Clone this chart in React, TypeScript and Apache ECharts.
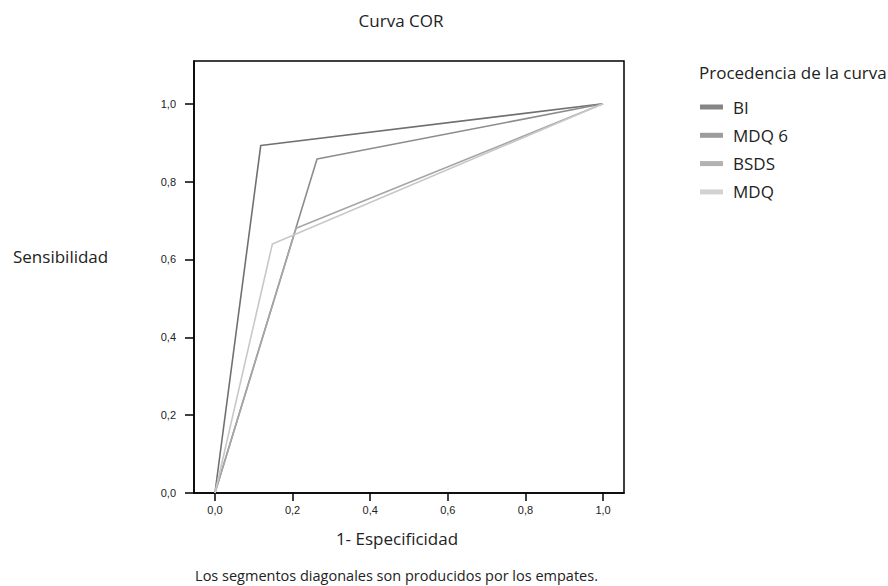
import React, { useEffect, useRef } from "react";
import * as echarts from "echarts";

const seriesNames = ["BI", "MDQ 6", "BSDS", "MDQ"];
const fpr = {
  BI: [0, 0.118, 1],
  "MDQ 6": [0, 0.263, 1],
  BSDS: [0, 0.209, 1],
  MDQ: [0, 0.148, 1],
};
const tpr = {
  BI: [0, 0.893, 1],
  "MDQ 6": [0, 0.858, 1],
  BSDS: [0, 0.68, 1],
  MDQ: [0, 0.64, 1],
};
const tickValues = [0, 0.2, 0.4, 0.6, 0.8, 1.0];
const lineColors = ["#707070", "#8c8c8c", "#a6a6a6", "#c8c8c8"];
const legendColors = ["#858585", "#9c9c9c", "#b2b2b2", "#d2d2d2"];

const FONT = "'Open Sans', sans-serif";
const fmt = (v: number) => v.toFixed(1).replace(".", ",");

export default function App() {
  const ref = useRef<HTMLDivElement>(null);
  useEffect(() => {
    if (!ref.current) return;
    const chart = echarts.init(ref.current, undefined, { renderer: "svg" });
    const series = seriesNames.map((name, i) => ({
      name,
      type: "line",
      data: (fpr as any)[name].map((x: number, j: number) => [x, (tpr as any)[name][j]]),
      showSymbol: false,
      symbol: "none",
      lineStyle: { color: lineColors[i], width: 1.6 },
      itemStyle: { color: legendColors[i] },
    }));
    chart.setOption({
      animation: false,
      backgroundColor: "#fff",
      title: {
        text: "Curva COR",
        left: 396,
        top: 7,
        textAlign: "center",
        textStyle: { fontFamily: FONT, fontSize: 17, fontWeight: "normal", color: "#222" },
      },
      legend: {
        data: seriesNames,
        orient: "vertical",
        left: 700,
        top: 97,
        padding: 0,
        icon: "rect",
        itemWidth: 23,
        itemHeight: 5,
        itemGap: 8.3,
        textStyle: { fontFamily: FONT, fontSize: 17, lineHeight: 20, color: "#222", padding: [0, 0, 0, 5] },
      },
      grid: {
        left: 194,
        top: 61,
        width: 430,
        height: 432,
        show: true,
        borderColor: "#000",
        borderWidth: 1.5,
        containLabel: false,
      },
      xAxis: {
        type: "value",
        min: -0.054,
        max: 1.054,
        splitLine: { show: false },
        axisLine: { show: true, onZero: false, lineStyle: { color: "#000", width: 1.5 } },
        axisTick: { show: true, customValues: tickValues, length: 8, lineStyle: { color: "#000", width: 1.5 } },
        axisLabel: {
          customValues: tickValues,
          formatter: fmt,
          margin: 11,
          fontFamily: "'Liberation Sans', Arial, sans-serif",
          fontSize: 11,
          color: "#222",
        },
      },
      yAxis: {
        type: "value",
        min: 0,
        max: 1.11,
        splitLine: { show: false },
        axisLine: { show: true, onZero: false, lineStyle: { color: "#000", width: 1.5 } },
        axisTick: { show: true, customValues: tickValues, length: 9, lineStyle: { color: "#000", width: 1.5 } },
        axisLabel: {
          customValues: tickValues,
          formatter: fmt,
          margin: 18,
          fontFamily: "'Liberation Sans', Arial, sans-serif",
          fontSize: 11,
          color: "#222",
        },
      },
      graphic: [
        {
          type: "text",
          x: 13,
          y: 256,
          style: { text: "Sensibilidad", fontFamily: FONT, fontSize: 17, fill: "#222", verticalAlign: "middle" },
        },
        {
          type: "text",
          x: 397,
          y: 538,
          style: { text: "1- Especificidad", fontFamily: FONT, fontSize: 17, fill: "#222", align: "center", verticalAlign: "middle" },
        },
        {
          type: "text",
          x: 396.5,
          y: 575,
          style: {
            text: "Los segmentos diagonales son producidos por los empates.",
            fontFamily: FONT,
            fontSize: 14.5,
            fill: "#222",
            align: "center",
            verticalAlign: "middle",
          },
        },
        {
          type: "text",
          x: 699,
          y: 72,
          style: { text: "Procedencia de la curva", fontFamily: FONT, fontSize: 17, fill: "#222", verticalAlign: "middle" },
        },
      ],
      series,
    });
    return () => chart.dispose();
  }, []);
  return <div ref={ref} style={{ width: 888, height: 586, position: "absolute", left: 0, top: 0 }} />;
}
